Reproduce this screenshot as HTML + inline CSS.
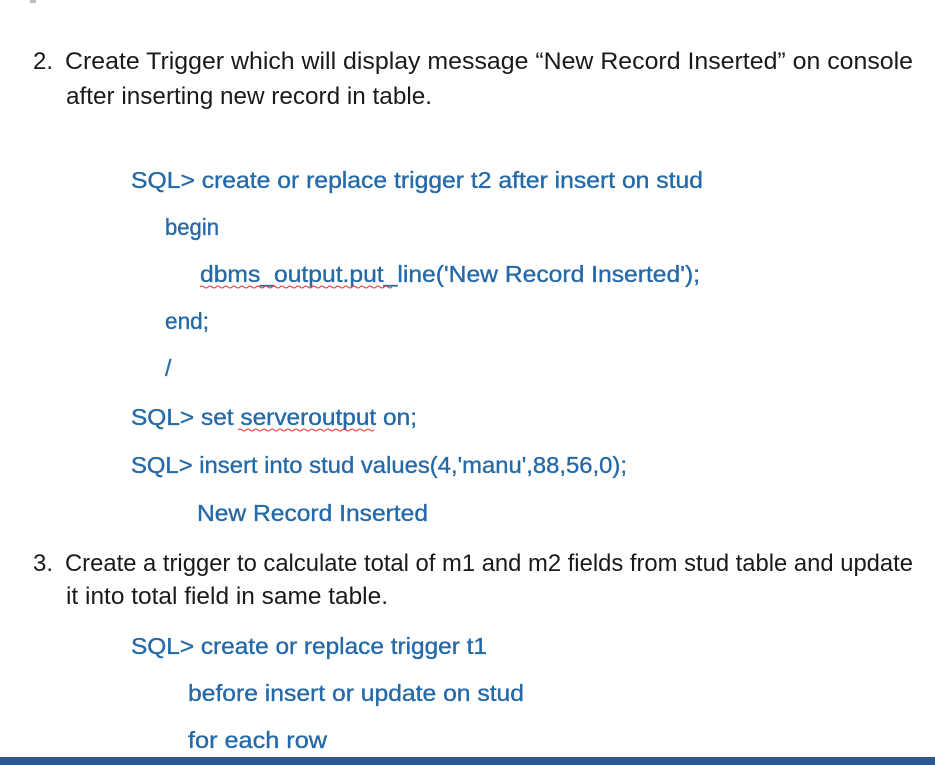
<!DOCTYPE html>
<html><head><meta charset="utf-8"><style>
html,body{margin:0;padding:0;background:#fff;width:935px;height:765px;overflow:hidden}
svg{display:block}
.k{font-family:"Liberation Sans",sans-serif;font-size:24px;fill:#1a1a1a}
.b{font-family:"Liberation Sans",sans-serif;font-size:23px;fill:#2469a8;stroke:#2469a8;stroke-width:0.35}
</style></head><body>
<svg width="935" height="765" viewBox="0 0 935 765">
<rect x="30" y="0" width="6" height="3" fill="#bbb"/>
<text class="k" x="33" y="69">2.</text>
<text class="k" x="65" y="69" textLength="848" lengthAdjust="spacingAndGlyphs">Create Trigger which will display message “New Record Inserted” on console</text>
<text class="k" x="66" y="104" textLength="366" lengthAdjust="spacingAndGlyphs">after inserting new record in table.</text>

<text class="b" x="131" y="188" textLength="572" lengthAdjust="spacingAndGlyphs">SQL&gt; create or replace trigger t2 after insert on stud</text>
<text class="b" x="165" y="235" textLength="54" lengthAdjust="spacingAndGlyphs">begin</text>
<text class="b" x="200" y="282" textLength="500" lengthAdjust="spacingAndGlyphs">dbms_output.put_line('New Record Inserted');</text>
<path d="M200 287 q2 -2 4 0 t4 0 t4 0 t4 0 t4 0 t4 0 t4 0 t4 0 t4 0 t4 0 t4 0 t4 0 t4 0 t4 0 t4 0 t4 0 t4 0 t4 0 t4 0 t4 0 t4 0 t4 0 t4 0 t4 0 t4 0 t4 0 t4 0 t4 0 t4 0 t4 0 t4 0 t4 0 t4 0 t4 0 t4 0 t4 0 t4 0 t4 0 t4 0 t4 0 t4 0 t4 0 t4 0 t4 0 t4 0 t4 0 t4 0 t4 0" stroke="#d33" stroke-width="1" fill="none"/>
<text class="b" x="165" y="329" textLength="44" lengthAdjust="spacingAndGlyphs">end;</text>
<text class="b" x="165" y="376">/</text>
<text class="b" x="131" y="425" textLength="286" lengthAdjust="spacingAndGlyphs">SQL&gt; set serveroutput on;</text>
<path d="M238 430 q2 -2 4 0 t4 0 t4 0 t4 0 t4 0 t4 0 t4 0 t4 0 t4 0 t4 0 t4 0 t4 0 t4 0 t4 0 t4 0 t4 0 t4 0 t4 0 t4 0 t4 0 t4 0 t4 0 t4 0 t4 0 t4 0 t4 0 t4 0 t4 0 t4 0 t4 0 t4 0 t4 0 t4 0 t4 0" stroke="#d33" stroke-width="1" fill="none"/>
<text class="b" x="131" y="473" textLength="496" lengthAdjust="spacingAndGlyphs">SQL&gt; insert into stud values(4,'manu',88,56,0);</text>
<text class="b" x="197" y="521" textLength="231" lengthAdjust="spacingAndGlyphs">New Record Inserted</text>

<text class="k" x="33" y="571">3.</text>
<text class="k" x="65" y="571" textLength="848" lengthAdjust="spacingAndGlyphs">Create a trigger to calculate total of m1 and m2 fields from stud table and update</text>
<text class="k" x="66" y="604" textLength="322" lengthAdjust="spacingAndGlyphs">it into total field in same table.</text>

<text class="b" x="131" y="654" textLength="356" lengthAdjust="spacingAndGlyphs">SQL&gt; create or replace trigger t1</text>
<text class="b" x="188" y="701" textLength="336" lengthAdjust="spacingAndGlyphs">before insert or update on stud</text>
<text class="b" x="188" y="748" textLength="139" lengthAdjust="spacingAndGlyphs">for each row</text>

<rect x="0" y="757" width="935" height="8" fill="#2e5892"/>
</svg>
</body></html>
